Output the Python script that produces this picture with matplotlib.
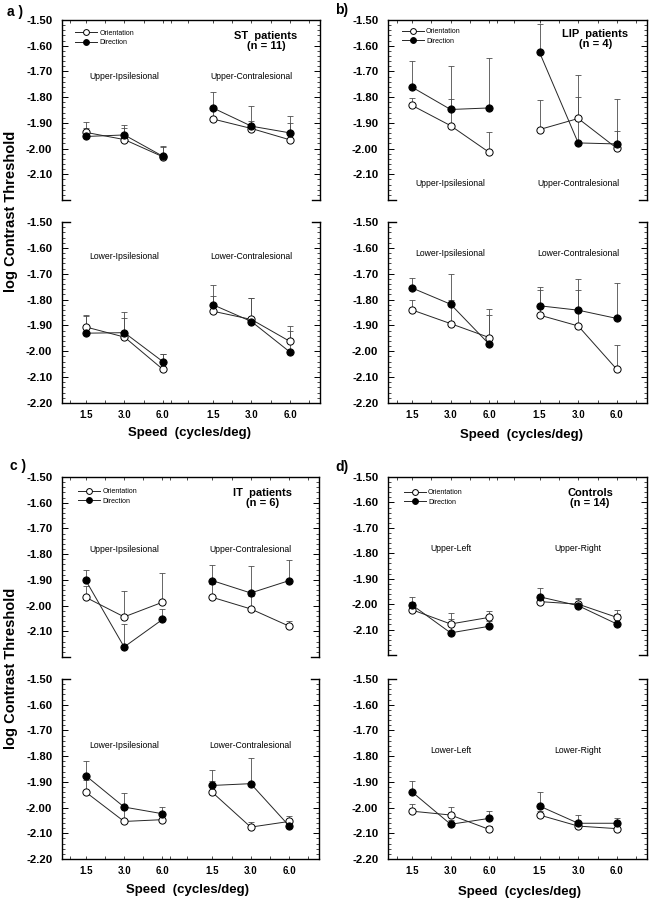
import numpy as np
import matplotlib
matplotlib.use('Agg')
import matplotlib.pyplot as plt
from matplotlib.ticker import MultipleLocator, FixedLocator
from matplotlib.lines import Line2D

plt.rcParams['font.family'] = ['Liberation Sans', 'DejaVu Sans']

# x categories: ipsilesional 1.5/3.0/6.0 then contralesional 1.5/3.0/6.0
speed_labels = ['1.5', '3.0', '6.0', '1.5', '3.0', '6.0']
series_names = ['Orientation', 'Direction']

# a) ST patients
a_up_ori = [-1.937, -1.965, -2.032, -1.885, -1.922, -1.966]
a_up_ori_err = [0.040, 0.045, 0.040, 0.047, 0.030, 0.065]
a_up_dir = [-1.953, -1.947, -2.030, -1.842, -1.913, -1.939]
a_up_dir_err = [0.032, 0.040, 0.040, 0.062, 0.080, 0.065]
a_lo_ori = [-1.906, -1.945, -2.070, -1.845, -1.877, -1.962]
a_lo_ori_err = [0.045, 0.075, 0.060, 0.060, 0.085, 0.040]
a_lo_dir = [-1.930, -1.928, -2.040, -1.820, -1.885, -2.003]
a_lo_dir_err = [0.065, 0.080, 0.030, 0.077, 0.092, 0.100]

# b) LIP patients
b_up_ori = [-1.832, -1.911, -2.015, -1.926, -1.883, -1.999]
b_up_ori_err = [0.030, 0.105, 0.080, 0.115, 0.168, 0.066]
b_up_dir = [-1.761, -1.848, -1.842, -1.626, -1.978, -1.982]
b_up_dir_err = [0.100, 0.170, 0.195, 0.110, 0.180, 0.176]
b_lo_ori = [-1.840, -1.893, -1.947, -1.860, -1.902, -2.070]
b_lo_ori_err = [0.040, 0.090, 0.110, 0.097, 0.140, 0.094]
b_lo_dir = [-1.755, -1.818, -1.973, -1.824, -1.841, -1.873]
b_lo_dir_err = [0.038, 0.117, 0.115, 0.074, 0.120, 0.136]

# c) IT patients
c_up_ori = [-1.968, -2.044, -1.987, -1.968, -2.013, -2.080]
c_up_ori_err = [0.046, 0.100, 0.114, 0.050, 0.050, 0.020]
c_up_dir = [-1.902, -2.161, -2.054, -1.903, -1.951, -1.903]
c_up_dir_err = [0.042, 0.090, 0.042, 0.060, 0.106, 0.082]
c_lo_ori = [-1.940, -2.054, -2.047, -1.941, -2.076, -2.054]
c_lo_ori_err = [0.048, 0.050, 0.015, 0.043, 0.020, 0.022]
c_lo_dir = [-1.876, -1.998, -2.024, -1.914, -1.907, -2.071]
c_lo_dir_err = [0.056, 0.054, 0.025, 0.060, 0.100, 0.015]

# d) Controls
d_up_ori = [-2.022, -2.078, -2.052, -1.990, -2.000, -2.052]
d_up_ori_err = [0.030, 0.043, 0.024, 0.020, 0.020, 0.030]
d_up_dir = [-2.003, -2.113, -2.087, -1.971, -2.006, -2.078]
d_up_dir_err = [0.033, 0.055, 0.020, 0.036, 0.030, 0.040]
d_lo_ori = [-2.014, -2.029, -2.085, -2.029, -2.072, -2.082]
d_lo_ori_err = [0.026, 0.032, 0.015, 0.015, 0.015, 0.015]
d_lo_dir = [-1.939, -2.065, -2.042, -1.994, -2.061, -2.061]
d_lo_dir_err = [0.042, 0.015, 0.028, 0.054, 0.034, 0.021]

panel_titles = ['ST  patients\n(n = 11)', 'LIP  patients\n(n = 4)',
                'IT  patients\n(n = 6)', 'Controls\n(n = 14)']
panel_letters = ['a )', 'b)', 'c )', 'd)']
patient_upper = ['Upper-Ipsilesional', 'Upper-Contralesional']
patient_lower = ['Lower-Ipsilesional', 'Lower-Contralesional']
control_upper = ['Upper-Left', 'Upper-Right']
control_lower = ['Lower-Left', 'Lower-Right']

x_pos = np.array([1, 2, 3, 4.3, 5.3, 6.3])
W, H = 654, 900


def px_axes(fig, left, right, top, bottom):
    return fig.add_axes([left / W, 1 - bottom / H, (right - left) / W, (bottom - top) / H])


def draw_half(ax, ori, ori_err, dr, dr_err, labels, label_y, upper):
    ori, ori_err, dr, dr_err = map(np.asarray, (ori, ori_err, dr, dr_err))
    for g in range(2):
        sl = slice(3 * g, 3 * g + 3)
        xs = x_pos[sl]
        for vals, errs in ((ori, ori_err), (dr, dr_err)):
            ax.errorbar(xs, vals[sl], yerr=[np.zeros(3), errs[sl]], fmt='none',
                        ecolor='0.3', elinewidth=0.6, capsize=2.2, capthick=0.6, zorder=1)
        ax.plot(xs, ori[sl], '-o', color='0.15', lw=0.7, ms=5.2, mfc='white',
                mec='black', mew=0.7, zorder=3)
        ax.plot(xs, dr[sl], '-o', color='0.15', lw=0.7, ms=5.2, mfc='black',
                mec='black', mew=0.7, zorder=4)
        ax.text(x_pos[3 * g + 1], label_y, labels[g], ha='center', va='center', fontsize=6.2)

    ax.set_xlim(0.38, 7.08)
    ax.set_ylim(-2.2, -1.5)
    ticks = [-1.5, -1.6, -1.7, -1.8, -1.9, -2.0, -2.1] + ([] if upper else [-2.2])
    ax.set_yticks(ticks)
    ax.set_yticklabels([f'{t:.2f}' for t in ticks], fontweight='bold', fontsize=8.2)
    ax.yaxis.set_minor_locator(MultipleLocator(0.02))
    ax.tick_params(axis='y', which='both', direction='in', left=True, right=True, pad=7)
    ax.tick_params(axis='y', which='major', length=4, width=0.7)
    ax.tick_params(axis='y', which='minor', length=2, width=0.5)

    ax.set_xticks(x_pos)
    ax.xaxis.set_minor_locator(FixedLocator([0.6, 1.5, 2.5, 3.2, 3.65, 4.8, 5.8, 6.8]))
    ax.tick_params(axis='x', which='both', direction='in', length=2.5, width=0.5)
    if upper:
        ax.tick_params(axis='x', which='both', bottom=False, top=True, labelbottom=False)
        ax.spines['bottom'].set_visible(False)
        stub_y = 0
    else:
        ax.set_xticklabels(speed_labels, fontweight='bold', fontsize=7)
        ax.tick_params(axis='x', which='both', top=False, pad=5)
        ax.spines['top'].set_visible(False)
        stub_y = 1
    # short corner stubs of the broken frame
    for x0, x1 in ((0, 0.03), (0.97, 1)):
        ax.plot([x0, x1], [stub_y, stub_y], color='black', lw=1.0,
                transform=ax.transAxes, clip_on=False)
    for s in ax.spines.values():
        s.set_linewidth(1.0)


fig = plt.figure(figsize=(W / 100, H / 100), dpi=100)

panels = [
    dict(data_up=(a_up_ori, a_up_ori_err, a_up_dir, a_up_dir_err),
         data_lo=(a_lo_ori, a_lo_ori_err, a_lo_dir, a_lo_dir_err),
         lab_up=patient_upper, lab_lo=patient_lower, ly_up=-1.72, ly_lo=-1.635,
         box=(62, 320, 20, 200, 222, 403), title_xy=(0.79, 0.885), leg_xy=(0.05, 0.945),
         letter_xy=(7, 12), xlabel_xy=(190, 433)),
    dict(data_up=(b_up_ori, b_up_ori_err, b_up_dir, b_up_dir_err),
         data_lo=(b_lo_ori, b_lo_ori_err, b_lo_dir, b_lo_dir_err),
         lab_up=patient_upper, lab_lo=patient_lower, ly_up=-2.135, ly_lo=-1.62,
         box=(388, 647, 20, 200, 222, 403), title_xy=(0.80, 0.893), leg_xy=(0.053, 0.955),
         letter_xy=(335, 10), xlabel_xy=(522, 435)),
    dict(data_up=(c_up_ori, c_up_ori_err, c_up_dir, c_up_dir_err),
         data_lo=(c_lo_ori, c_lo_ori_err, c_lo_dir, c_lo_dir_err),
         lab_up=patient_upper, lab_lo=patient_lower, ly_up=-1.78, ly_lo=-1.76,
         box=(62, 319, 477, 657, 679, 859), title_xy=(0.78, 0.883), leg_xy=(0.062, 0.937),
         letter_xy=(10, 466), xlabel_xy=(188, 890)),
    dict(data_up=(d_up_ori, d_up_ori_err, d_up_dir, d_up_dir_err),
         data_lo=(d_lo_ori, d_lo_ori_err, d_lo_dir, d_lo_dir_err),
         lab_up=control_upper, lab_lo=control_lower, ly_up=-1.78, ly_lo=-1.78,
         box=(388, 647, 477, 655, 679, 859), title_xy=(0.78, 0.88), leg_xy=(0.061, 0.93),
         letter_xy=(335, 467), xlabel_xy=(520, 892)),
]

for i, p in enumerate(panels):
    left, right, t_up, b_up, t_lo, b_lo = p['box']
    ax_up = px_axes(fig, left, right, t_up, b_up)
    ax_lo = px_axes(fig, left, right, t_lo, b_lo)
    draw_half(ax_up, *p['data_up'], p['lab_up'], p['ly_up'], upper=True)
    draw_half(ax_lo, *p['data_lo'], p['lab_lo'], p['ly_lo'], upper=False)

    ax_up.text(*p['title_xy'], panel_titles[i], transform=ax_up.transAxes, ha='center',
               va='center', fontsize=8, fontweight='bold', linespacing=1.0)

    handles = [Line2D([], [], color='0.15', lw=0.7, marker='o', ms=4.2, mfc=fc,
                      mec='black', mew=0.7) for fc in ('white', 'black')]
    ax_up.legend(handles, series_names, loc='upper left', bbox_to_anchor=p['leg_xy'],
                 frameon=False, fontsize=5, handlelength=3.2, handletextpad=0.3,
                 labelspacing=0.35, borderpad=0, borderaxespad=0)

    lx, ly = p['letter_xy']
    fig.text(lx / W, 1 - ly / H, panel_letters[i], fontsize=10, fontweight='bold',
             ha='left', va='center')
    xx, xy = p['xlabel_xy']
    fig.text(xx / W, 1 - xy / H, 'Speed  (cycles/deg)', fontsize=9.5, fontweight='bold',
             ha='center', va='center')

fig.text(11 / W, 1 - 211 / H, 'log Contrast Threshold', rotation=90, fontsize=10.5,
         fontweight='bold', ha='center', va='center')
fig.text(11 / W, 1 - 668 / H, 'log Contrast Threshold', rotation=90, fontsize=10.5,
         fontweight='bold', ha='center', va='center')

fig.savefig('out.png', dpi=100)
